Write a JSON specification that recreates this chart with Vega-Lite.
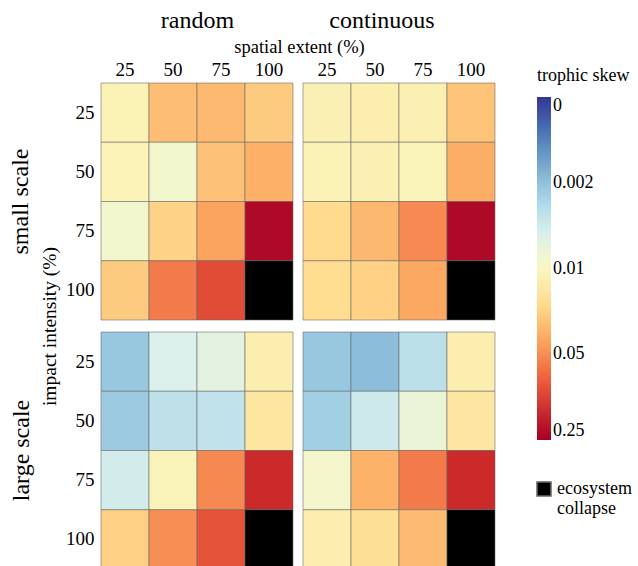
{
  "$schema": "https://vega.github.io/schema/vega-lite/v6.json",
  "padding": {"left": 8, "top": 8, "right": 5, "bottom": 5},
  "background": "white",
  "datasets": {
    "cells": [
      {"scale": "small", "pattern": "random", "intensity": 25, "extent": 25, "skew": 0.0116},
      {"scale": "small", "pattern": "random", "intensity": 25, "extent": 50, "skew": 0.0288},
      {"scale": "small", "pattern": "random", "intensity": 25, "extent": 75, "skew": 0.0306},
      {"scale": "small", "pattern": "random", "intensity": 25, "extent": 100, "skew": 0.024},
      {"scale": "small", "pattern": "random", "intensity": 50, "extent": 25, "skew": 0.0113},
      {"scale": "small", "pattern": "random", "intensity": 50, "extent": 50, "skew": 0.0083},
      {"scale": "small", "pattern": "random", "intensity": 50, "extent": 75, "skew": 0.0273},
      {"scale": "small", "pattern": "random", "intensity": 50, "extent": 100, "skew": 0.0344},
      {"scale": "small", "pattern": "random", "intensity": 75, "extent": 25, "skew": 0.0085},
      {"scale": "small", "pattern": "random", "intensity": 75, "extent": 50, "skew": 0.0216},
      {"scale": "small", "pattern": "random", "intensity": 75, "extent": 75, "skew": 0.0392},
      {"scale": "small", "pattern": "random", "intensity": 75, "extent": 100, "skew": 0.22},
      {"scale": "small", "pattern": "random", "intensity": 100, "extent": 25, "skew": 0.024},
      {"scale": "small", "pattern": "random", "intensity": 100, "extent": 50, "skew": 0.0607},
      {"scale": "small", "pattern": "random", "intensity": 100, "extent": 75, "skew": 0.0996},
      {"scale": "small", "pattern": "random", "intensity": 100, "extent": 100, "skew": null, "status": "ecosystem collapse"},

      {"scale": "small", "pattern": "continuous", "intensity": 25, "extent": 25, "skew": 0.012},
      {"scale": "small", "pattern": "continuous", "intensity": 25, "extent": 50, "skew": 0.0126},
      {"scale": "small", "pattern": "continuous", "intensity": 25, "extent": 75, "skew": 0.0124},
      {"scale": "small", "pattern": "continuous", "intensity": 25, "extent": 100, "skew": 0.0266},
      {"scale": "small", "pattern": "continuous", "intensity": 50, "extent": 25, "skew": 0.0116},
      {"scale": "small", "pattern": "continuous", "intensity": 50, "extent": 50, "skew": 0.0121},
      {"scale": "small", "pattern": "continuous", "intensity": 50, "extent": 75, "skew": 0.011},
      {"scale": "small", "pattern": "continuous", "intensity": 50, "extent": 100, "skew": 0.0353},
      {"scale": "small", "pattern": "continuous", "intensity": 75, "extent": 25, "skew": 0.0195},
      {"scale": "small", "pattern": "continuous", "intensity": 75, "extent": 50, "skew": 0.031},
      {"scale": "small", "pattern": "continuous", "intensity": 75, "extent": 75, "skew": 0.0517},
      {"scale": "small", "pattern": "continuous", "intensity": 75, "extent": 100, "skew": 0.22},
      {"scale": "small", "pattern": "continuous", "intensity": 100, "extent": 25, "skew": 0.019},
      {"scale": "small", "pattern": "continuous", "intensity": 100, "extent": 50, "skew": 0.0222},
      {"scale": "small", "pattern": "continuous", "intensity": 100, "extent": 75, "skew": 0.0377},
      {"scale": "small", "pattern": "continuous", "intensity": 100, "extent": 100, "skew": null, "status": "ecosystem collapse"},

      {"scale": "large", "pattern": "random", "intensity": 25, "extent": 25, "skew": 0.0022},
      {"scale": "large", "pattern": "random", "intensity": 25, "extent": 50, "skew": 0.00525},
      {"scale": "large", "pattern": "random", "intensity": 25, "extent": 75, "skew": 0.0062},
      {"scale": "large", "pattern": "random", "intensity": 25, "extent": 100, "skew": 0.0126},
      {"scale": "large", "pattern": "random", "intensity": 50, "extent": 25, "skew": 0.0023},
      {"scale": "large", "pattern": "random", "intensity": 50, "extent": 50, "skew": 0.0035},
      {"scale": "large", "pattern": "random", "intensity": 50, "extent": 75, "skew": 0.0037},
      {"scale": "large", "pattern": "random", "intensity": 50, "extent": 100, "skew": 0.0155},
      {"scale": "large", "pattern": "random", "intensity": 75, "extent": 25, "skew": 0.0046},
      {"scale": "large", "pattern": "random", "intensity": 75, "extent": 50, "skew": 0.011},
      {"scale": "large", "pattern": "random", "intensity": 75, "extent": 75, "skew": 0.0527},
      {"scale": "large", "pattern": "random", "intensity": 75, "extent": 100, "skew": 0.147},
      {"scale": "large", "pattern": "random", "intensity": 100, "extent": 25, "skew": 0.0225},
      {"scale": "large", "pattern": "random", "intensity": 100, "extent": 50, "skew": 0.0488},
      {"scale": "large", "pattern": "random", "intensity": 100, "extent": 75, "skew": 0.091},
      {"scale": "large", "pattern": "random", "intensity": 100, "extent": 100, "skew": null, "status": "ecosystem collapse"},

      {"scale": "large", "pattern": "continuous", "intensity": 25, "extent": 25, "skew": 0.0022},
      {"scale": "large", "pattern": "continuous", "intensity": 25, "extent": 50, "skew": 0.0019},
      {"scale": "large", "pattern": "continuous", "intensity": 25, "extent": 75, "skew": 0.0034},
      {"scale": "large", "pattern": "continuous", "intensity": 25, "extent": 100, "skew": 0.0126},
      {"scale": "large", "pattern": "continuous", "intensity": 50, "extent": 25, "skew": 0.0025},
      {"scale": "large", "pattern": "continuous", "intensity": 50, "extent": 50, "skew": 0.0043},
      {"scale": "large", "pattern": "continuous", "intensity": 50, "extent": 75, "skew": 0.0072},
      {"scale": "large", "pattern": "continuous", "intensity": 50, "extent": 100, "skew": 0.0153},
      {"scale": "large", "pattern": "continuous", "intensity": 75, "extent": 25, "skew": 0.0086},
      {"scale": "large", "pattern": "continuous", "intensity": 75, "extent": 50, "skew": 0.0336},
      {"scale": "large", "pattern": "continuous", "intensity": 75, "extent": 75, "skew": 0.0607},
      {"scale": "large", "pattern": "continuous", "intensity": 75, "extent": 100, "skew": 0.147},
      {"scale": "large", "pattern": "continuous", "intensity": 100, "extent": 25, "skew": 0.0126},
      {"scale": "large", "pattern": "continuous", "intensity": 100, "extent": 50, "skew": 0.0178},
      {"scale": "large", "pattern": "continuous", "intensity": 100, "extent": 75, "skew": 0.0299},
      {"scale": "large", "pattern": "continuous", "intensity": 100, "extent": 100, "skew": null, "status": "ecosystem collapse"}
    ]
  },
  "config": {
    "font": "Liberation Serif",
    "view": {"stroke": null},
    "axis": {
      "domain": false,
      "ticks": false,
      "grid": false,
      "labelFont": "Liberation Serif",
      "labelFontSize": 19,
      "labelColor": "black",
      "labelAngle": 0,
      "titleFont": "Liberation Serif",
      "titleFontSize": 18.5,
      "titleFontWeight": "normal",
      "titleColor": "black"
    },
    "title": {"font": "Liberation Serif", "fontSize": 24, "fontWeight": "normal", "color": "black"},
    "legend": {
      "titleFont": "Liberation Serif",
      "labelFont": "Liberation Serif",
      "titleFontSize": 18,
      "labelFontSize": 18,
      "titleFontWeight": "normal",
      "titleColor": "black",
      "labelColor": "black"
    }
  },
  "resolve": {"scale": {"color": "shared", "fill": "shared"}, "legend": {"color": "shared", "fill": "shared"}},
  "bounds": "flush",
  "columns": 2,
  "spacing": {"row": 12, "column": 10},
  "concat": [
    {
      "width": 192, "height": 237,
      "title": {"text": "small scale", "orient": "left", "frame": "group", "anchor": "middle", "offset": 7, "dx": 0},
      "data": {"name": "cells"},
      "transform": [{"filter": "datum.scale == 'small' && datum.pattern == 'random'"}],
      "encoding": {
        "x": {"field": "extent", "type": "ordinal", "axis": {"orient": "top", "title": "random", "titleFontSize": 24, "labelPadding": 4, "titlePadding": 28}},
        "y": {"field": "intensity", "type": "ordinal", "axis": {"title": "impact intensity (%)", "titleFontSize": 19.5, "titleY": 243, "labelPadding": 7, "titlePadding": 6}}
      },
      "layer": [
        {"transform": [{"filter": "isValid(datum.skew)"}],
         "mark": {"type": "rect", "stroke": "#666", "strokeWidth": 0.8, "strokeOpacity": 0.7},
         "encoding": {"color": {"field": "skew", "type": "quantitative", "title": "trophic skew",
           "scale": {"type": "log", "domain": [0.25, 0.0004], "scheme": "redyellowblue"},
           "legend": {"orient": "none", "legendX": 436, "legendY": -16, "titlePadding": 12, "values": [0.0004, 0.002, 0.01, 0.05, 0.25], "labelExpr": "datum.value < 0.001 ? '0' : format(datum.value, '~g')", "gradientLength": 343, "gradientThickness": 14, "labelOverlap": false}}}},
        {"transform": [{"filter": "!isValid(datum.skew)"}],
         "mark": {"type": "rect", "stroke": "#666", "strokeWidth": 0.8, "strokeOpacity": 0.7},
         "encoding": {"fill": {"field": "status", "type": "nominal", "scale": {"range": ["black"]},
           "legend": {"orient": "none", "legendX": 434, "legendY": 397, "title": null, "symbolType": "square", "symbolSize": 196, "labelExpr": "['ecosystem', 'collapse']"}}}}
      ]
    },
    {
      "width": 192, "height": 237,
      "title": {"text": "continuous", "offset": 4, "dx": -17},
      "data": {"name": "cells"},
      "transform": [{"filter": "datum.scale == 'small' && datum.pattern == 'continuous'"}],
      "encoding": {
        "x": {"field": "extent", "type": "ordinal", "axis": {"orient": "top", "title": "spatial extent (%)", "titleX": -4, "labelPadding": 4, "titlePadding": 4}},
        "y": {"field": "intensity", "type": "ordinal", "axis": null}
      },
      "layer": [
        {"transform": [{"filter": "isValid(datum.skew)"}],
         "mark": {"type": "rect", "stroke": "#666", "strokeWidth": 0.8, "strokeOpacity": 0.7},
         "encoding": {"color": {"field": "skew", "type": "quantitative", "title": "trophic skew",
           "scale": {"type": "log", "domain": [0.25, 0.0004], "scheme": "redyellowblue"}}}},
        {"transform": [{"filter": "!isValid(datum.skew)"}],
         "mark": {"type": "rect", "stroke": "#666", "strokeWidth": 0.8, "strokeOpacity": 0.7},
         "encoding": {"fill": {"field": "status", "type": "nominal", "scale": {"range": ["black"]}}}}
      ]
    },
    {
      "width": 192, "height": 237,
      "title": {"text": "large scale", "orient": "left", "frame": "group", "anchor": "middle", "offset": 32, "dx": 0},
      "data": {"name": "cells"},
      "transform": [{"filter": "datum.scale == 'large' && datum.pattern == 'random'"}],
      "encoding": {
        "x": {"field": "extent", "type": "ordinal", "axis": null},
        "y": {"field": "intensity", "type": "ordinal", "axis": {"title": null, "labelPadding": 7}}
      },
      "layer": [
        {"transform": [{"filter": "isValid(datum.skew)"}],
         "mark": {"type": "rect", "stroke": "#666", "strokeWidth": 0.8, "strokeOpacity": 0.7},
         "encoding": {"color": {"field": "skew", "type": "quantitative", "title": "trophic skew",
           "scale": {"type": "log", "domain": [0.25, 0.0004], "scheme": "redyellowblue"}}}},
        {"transform": [{"filter": "!isValid(datum.skew)"}],
         "mark": {"type": "rect", "stroke": "#666", "strokeWidth": 0.8, "strokeOpacity": 0.7},
         "encoding": {"fill": {"field": "status", "type": "nominal", "scale": {"range": ["black"]}}}}
      ]
    },
    {
      "width": 192, "height": 237,
      "data": {"name": "cells"},
      "transform": [{"filter": "datum.scale == 'large' && datum.pattern == 'continuous'"}],
      "encoding": {
        "x": {"field": "extent", "type": "ordinal", "axis": null},
        "y": {"field": "intensity", "type": "ordinal", "axis": null}
      },
      "layer": [
        {"transform": [{"filter": "isValid(datum.skew)"}],
         "mark": {"type": "rect", "stroke": "#666", "strokeWidth": 0.8, "strokeOpacity": 0.7},
         "encoding": {"color": {"field": "skew", "type": "quantitative", "title": "trophic skew",
           "scale": {"type": "log", "domain": [0.25, 0.0004], "scheme": "redyellowblue"}}}},
        {"transform": [{"filter": "!isValid(datum.skew)"}],
         "mark": {"type": "rect", "stroke": "#666", "strokeWidth": 0.8, "strokeOpacity": 0.7},
         "encoding": {"fill": {"field": "status", "type": "nominal", "scale": {"range": ["black"]}}}}
      ]
    }
  ]
}
